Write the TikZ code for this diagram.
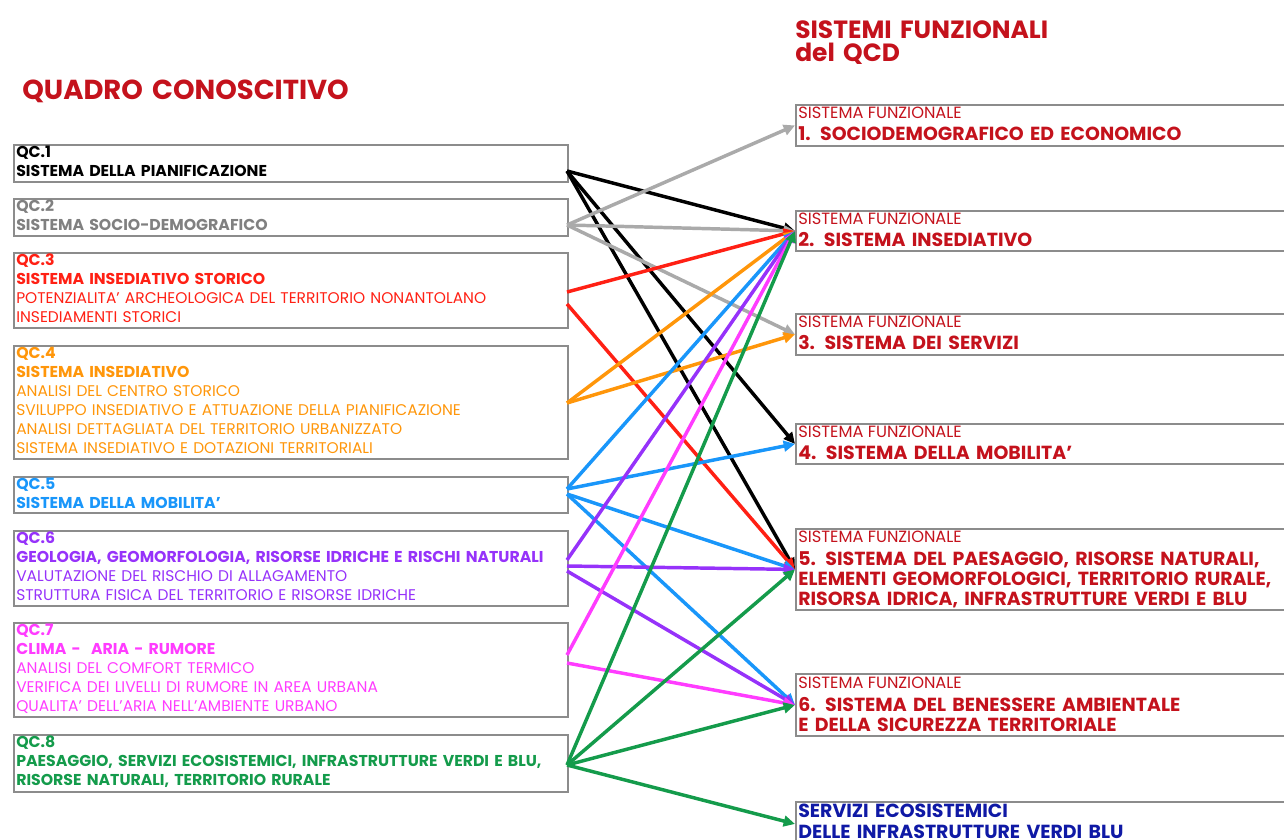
\documentclass[tikz,border=0pt]{standalone}
\usepackage{fontspec}
\setmainfont{Poppins}
\usetikzlibrary{arrows.meta}
\definecolor{titred}{RGB}{196,18,28}
\definecolor{qgray}{RGB}{128,128,128}
\definecolor{agray}{RGB}{170,170,170}
\definecolor{qred}{RGB}{255,32,20}
\definecolor{qorange}{RGB}{255,150,10}
\definecolor{qblue}{RGB}{25,150,250}
\definecolor{qpurple}{RGB}{150,50,250}
\definecolor{qpink}{RGB}{255,60,255}
\definecolor{qgreen}{RGB}{20,155,75}
\definecolor{dblue}{RGB}{15,25,165}
\definecolor{bgray}{RGB}{140,140,140}
\newcommand{\hb}[1]{{\fontsize{11.8}{14.25}\selectfont\bfseries #1}}
\begin{document}
\begin{tikzpicture}[x=0.75pt,y=-0.75pt,
 box/.style={draw=bgray,line width=1.4pt,inner sep=0pt,anchor=north west},
 lbox/.style={box,minimum width=415.5pt},
 rbox/.style={box,minimum width=378.75pt},
 ltxt/.style={anchor=base west,inner sep=0pt,align=left,text width=410pt,font=\fontsize{11.6}{14.25}\selectfont},
 rlight/.style={anchor=base west,inner sep=0pt,font=\fontsize{12.2}{14}\selectfont,text=titred},
 rbold/.style={anchor=base west,inner sep=0pt,align=left,text width=370pt,font=\fontsize{14.2}{15}\selectfont\bfseries,text=titred},
 ttl/.style={anchor=base west,inner sep=0pt,align=left,text width=300pt,text=titred},
 arr/.style={line width=2.6pt,-{Triangle[length=8.5pt,width=8pt]}},
]
\useasboundingbox (0,0) rectangle (1284,839);
\clip (0,0) rectangle (1284,839);

% titles
\node[ttl,font=\fontsize{20.6}{24}\selectfont\bfseries] (tq) at (22,99) {QUADRO CONOSCITIVO};
\node[ttl,font=\fontsize{18.7}{17.25}\selectfont\bfseries] (ts) at (795,38) {SISTEMI FUNZIONALI\\del QCD};

% left boxes
\node[lbox,minimum height=27.75pt] (qc1) at (13,144) {};
\node[lbox,minimum height=27.75pt] (qc2) at (13,198) {};
\node[lbox,minimum height=56.25pt] (qc3) at (13,252) {};
\node[lbox,minimum height=84.75pt] (qc4) at (13,345) {};
\node[lbox,minimum height=27pt] (qc5) at (13,476) {};
\node[lbox,minimum height=56.25pt] (qc6) at (13,530) {};
\node[lbox,minimum height=70.5pt] (qc7) at (13,622) {};
\node[lbox,minimum height=42.75pt] (qc8) at (13,734) {};

\node[ltxt,text=black] (t1) at (16,157) {\hb{QC.1}\\\hb{SISTEMA DELLA PIANIFICAZIONE}};
\node[ltxt,text=qgray] (t2) at (16,211) {\hb{QC.2}\\\hb{SISTEMA SOCIO-DEMOGRAFICO}};
\node[ltxt,text=qred] (t3) at (16,265) {\hb{QC.3}\\\hb{SISTEMA INSEDIATIVO STORICO}\\POTENZIALITA’ ARCHEOLOGICA DEL TERRITORIO NONANTOLANO\\INSEDIAMENTI STORICI};
\node[ltxt,text=qorange] (t4) at (16,358) {\hb{QC.4}\\\hb{SISTEMA INSEDIATIVO}\\ANALISI DEL CENTRO STORICO\\SVILUPPO INSEDIATIVO E ATTUAZIONE DELLA PIANIFICAZIONE\\ANALISI DETTAGLIATA DEL TERRITORIO URBANIZZATO\\SISTEMA INSEDIATIVO E DOTAZIONI TERRITORIALI};
\node[ltxt,text=qblue] (t5) at (16,489) {\hb{QC.5}\\\hb{SISTEMA DELLA MOBILITA'}};
\node[ltxt,text=qpurple] (t6) at (16,543) {\hb{QC.6}\\\hb{GEOLOGIA, GEOMORFOLOGIA, RISORSE IDRICHE E RISCHI NATURALI}\\VALUTAZIONE DEL RISCHIO DI ALLAGAMENTO\\STRUTTURA FISICA DEL TERRITORIO E RISORSE IDRICHE};
\node[ltxt,text=qpink] (t7) at (16,635) {\hb{QC.7}\\\hb{CLIMA -\ \ ARIA - RUMORE}\\ANALISI DEL COMFORT TERMICO\\VERIFICA DEI LIVELLI DI RUMORE IN AREA URBANA\\QUALITA’ DELL’ARIA NELL’AMBIENTE URBANO};
\node[ltxt,text=qgreen] (t8) at (16,747) {\hb{QC.8}\\\hb{PAESAGGIO, SERVIZI ECOSISTEMICI, INFRASTRUTTURE VERDI E BLU,}\\\hb{RISORSE NATURALI, TERRITORIO RURALE}};

% right boxes
\node[rbox,minimum height=30.75pt] (r1) at (795,104) {};
\node[rbox,minimum height=30pt] (r2) at (795,210) {};
\node[rbox,minimum height=30.75pt] (r3) at (795,313) {};
\node[rbox,minimum height=30pt] (r4) at (795,423) {};
\node[rbox,minimum height=60.75pt] (r5) at (795,528) {};
\node[rbox,minimum height=46.5pt] (r6) at (795,673) {};
\node[rbox,minimum height=33pt] (r7) at (795,801) {};

\node[rlight] (r1a) at (798,118) {SISTEMA FUNZIONALE};
\node[rbold] (r1b) at (798,140) {1. SOCIODEMOGRAFICO ED ECONOMICO};
\node[rlight] (r2a) at (798,224) {SISTEMA FUNZIONALE};
\node[rbold] (r2b) at (798,246) {2. SISTEMA INSEDIATIVO};
\node[rlight] (r3a) at (798,327) {SISTEMA FUNZIONALE};
\node[rbold] (r3b) at (798,349) {3. SISTEMA DEI SERVIZI};
\node[rlight] (r4a) at (798,437) {SISTEMA FUNZIONALE};
\node[rbold] (r4b) at (798,459) {4. SISTEMA DELLA MOBILITA'};
\node[rlight] (r5a) at (798,542) {SISTEMA FUNZIONALE};
\node[rbold] (r5b) at (798,565) {5. SISTEMA DEL PAESAGGIO, RISORSE NATURALI,\\ELEMENTI GEOMORFOLOGICI, TERRITORIO RURALE,\\RISORSA IDRICA, INFRASTRUTTURE VERDI E BLU};
\node[rlight] (r6a) at (798,688) {SISTEMA FUNZIONALE};
\node[rbold] (r6b) at (798,711) {6. SISTEMA DEL BENESSERE AMBIENTALE\\E DELLA SICUREZZA TERRITORIALE};
\node[rbold,text=dblue,font=\fontsize{14.2}{15.75}\selectfont\bfseries] (r7b) at (798,817) {SERVIZI ECOSISTEMICI\\DELLE INFRASTRUTTURE VERDI BLU};

% connector start points on the left boxes
\coordinate (q1a) at (567,171);
\coordinate (q2a) at (567,225);
\coordinate (q3a) at (567,292);
\coordinate (q3b) at (567,304);
\coordinate (q4a) at (567,403);
\coordinate (q5a) at (567,489);
\coordinate (q5b) at (567,494);
\coordinate (q6a) at (567,560);
\coordinate (q6b) at (567,566);
\coordinate (q6c) at (567,571);
\coordinate (q7a) at (567,655);
\coordinate (q7b) at (567,663);
\coordinate (q8a) at (567,765);

% arrows
\draw[arr,black] (q1a) -- (r2.west);
\draw[arr,black] (q1a) -- (r4.west);
\draw[arr,black] (q1a) -- (r5.west);
\draw[arr,agray] (q2a) -- (r1.west);
\draw[arr,agray] (q2a) -- (r2.west);
\draw[arr,agray] (q2a) -- (r3.west);
\draw[arr,qred] (q3a) -- (r2.west);
\draw[arr,qred] (q3b) -- (r5.west);
\draw[arr,qorange] (q4a) -- (r2.west);
\draw[arr,qorange] (q4a) -- (r3.west);
\draw[arr,qblue] (q5a) -- (r2.west);
\draw[arr,qblue] (q5a) -- (r4.west);
\draw[arr,qblue] (q5b) -- (r5.west);
\draw[arr,qblue] (q5b) -- (r6.west);
\draw[arr,qpurple] (q6a) -- (r2.west);
\draw[arr,qpurple] (q6b) -- (r5.west);
\draw[arr,qpurple] (q6c) -- (r6.west);
\draw[arr,qpink] (q7a) -- (r2.west);
\draw[arr,qpink] (q7b) -- (r6.west);
\draw[arr,qgreen] (q8a) -- (r2.west);
\draw[arr,qgreen] (q8a) -- (r5.west);
\draw[arr,qgreen] (q8a) -- (r6.west);
\draw[arr,qgreen] (q8a) -- (r7.west);
\end{tikzpicture}
\end{document}
